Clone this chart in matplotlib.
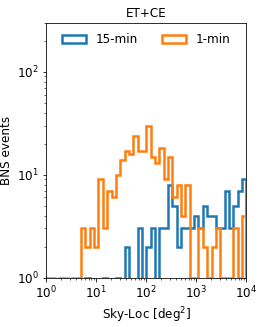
import numpy as np
import matplotlib
matplotlib.use("Agg")
import matplotlib.pyplot as plt

# log bins in sky-localisation area (deg^2)
edges = np.logspace(0, 4, 47)

# counts per bin
counts_15min = [0, 0, 0, 0, 0, 0, 0, 0, 0, 1,
                0, 0, 0, 1, 0, 0, 1, 0, 2, 0,
                0, 3, 0, 2, 3, 0, 3, 3, 8, 5,
                2, 3, 3, 3, 4, 3, 5, 4, 4, 3,
                3, 7, 3, 5, 7, 9]
counts_1min = [1, 1, 0, 1, 1, 0, 1, 1, 3, 2,
               3, 2, 9, 3, 7, 6, 10, 14, 17, 16,
               24, 17, 17, 30, 15, 13, 18, 9, 15, 6,
               8, 4, 8, 1, 1, 3, 2, 1, 2, 3,
               1, 1, 1, 3, 1, 4]

centers = np.sqrt(edges[:-1] * edges[1:])

plt.rcParams['font.size'] = 12

fig = plt.figure(figsize=(274 / 72, 327 / 72), dpi=72)
ax = fig.add_axes([0.169, 0.151, 0.730, 0.780])

ax.hist(centers, bins=edges, weights=counts_15min, histtype='step',
        log=True, lw=2.5, color='tab:blue', label='15-min')
ax.hist(centers, bins=edges, weights=counts_1min, histtype='step',
        log=True, lw=2.5, color='tab:orange', label='1-min')

ax.set_xscale('log')
ax.set_xlim(1, 1e4)
ax.set_ylim(1, 300)
ax.set_xlabel('Sky-Loc [deg$^2$]')
ax.set_ylabel('BNS events')
ax.set_title('ET+CE', fontsize=12)
ax.legend(loc='upper center', ncol=2, frameon=False)

fig.savefig('out.png', dpi=72)
